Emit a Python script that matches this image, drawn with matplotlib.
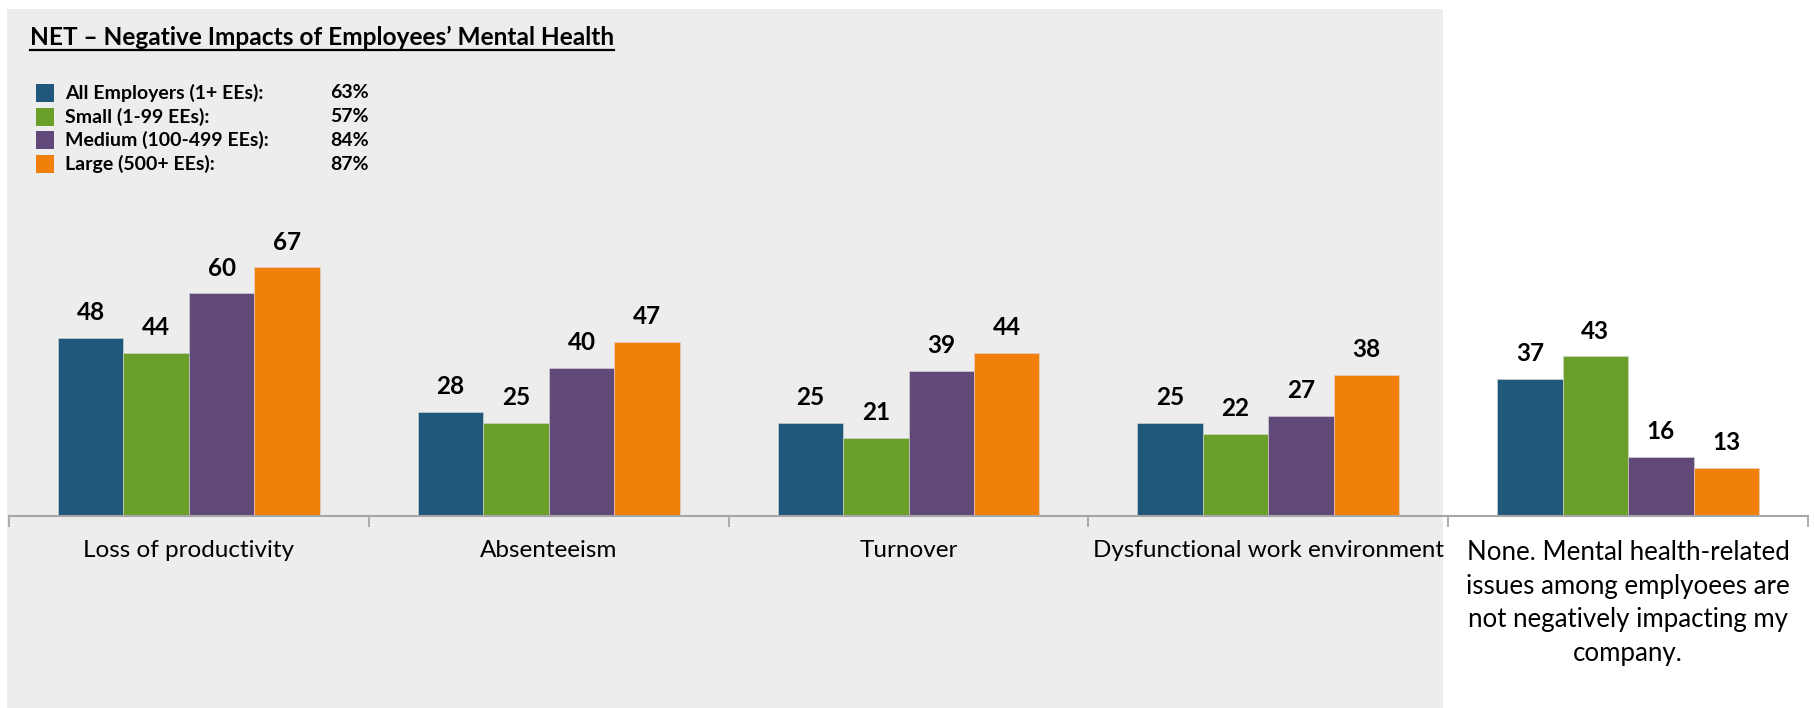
import numpy as np
import matplotlib
matplotlib.use("Agg")
import matplotlib.pyplot as plt
from matplotlib.patches import Rectangle
from matplotlib.lines import Line2D

W, H = 1814, 708
DPI = 100

plt.rcParams['font.family'] = ['Lato', 'DejaVu Sans']

title = "NET \u2013 Negative Impacts of Employees\u2019 Mental Health"
categories = [
    "Loss of productivity",
    "Absenteeism",
    "Turnover",
    "Dysfunctional work environment",
    "None. Mental health-related\nissues among emplyoees are\nnot negatively impacting my\ncompany.",
]
series = ["All Employers (1+ EEs):", "Small (1-99 EEs):",
          "Medium (100-499 EEs):", "Large (500+ EEs):"]
net_pct = ["63%", "57%", "84%", "87%"]
all_emp = [48, 28, 25, 25, 37]
small = [44, 25, 21, 22, 43]
medium = [60, 40, 39, 27, 16]
large = [67, 47, 44, 38, 13]
values = [all_emp, small, medium, large]
colors = ["#1F587A", "#6A9F29", "#604878", "#F0800A"]

fig = plt.figure(figsize=(W / DPI, H / DPI), dpi=DPI)
fig.patch.set_facecolor("white")

# grey panel behind the first four categories
fig.patches.append(Rectangle((7 / W, 0), (1443 - 7) / W, (H - 9) / H,
                             transform=fig.transFigure, facecolor="#EDEDED",
                             edgecolor="none", zorder=-5))

ax = fig.add_axes([9 / W, 192 / H, (1808 - 9) / W, 3.71 * 80 / H])
ax.set_facecolor("none")
ax.set_xlim(-0.5, len(categories) - 0.5)
ax.set_ylim(0, 80)

x = np.arange(len(categories))
bw = 0.182
for i, (vals, c) in enumerate(zip(values, colors)):
    pos = x + (i - 1.5) * bw
    ax.bar(pos, vals, bw, color=c, edgecolor="#D9D9D9", linewidth=0.4, zorder=2)
    for p, v in zip(pos, vals):
        ax.annotate(str(v), (p, v), xytext=(0, 10), textcoords="offset points",
                    ha="center", va="bottom", fontsize=17.5, fontweight="bold",
                    color="black")

for s in ["top", "right", "left"]:
    ax.spines[s].set_visible(False)
ax.spines["bottom"].set_color("#A6A6A6")
ax.spines["bottom"].set_linewidth(1.5)
ax.set_yticks([])
ax.set_xticks(np.arange(-0.5, len(categories), 1.0))
ax.set_xticklabels([])
ax.tick_params(axis="x", length=8, width=1.3, color="#A6A6A6", direction="out")
for k, (xi, lab) in enumerate(zip(x, categories)):
    last = k == len(categories) - 1
    ax.text(xi, -6.6, lab, ha="center", va="top",
            fontsize=18.6 if last else 17.5,
            linespacing=1.42, transform=ax.transData, clip_on=False)

# title with underline
t = fig.text(30 / W, 1 - 37 / H, title, ha="left", va="center",
             fontsize=17.6, fontweight="bold")

# legend block
rows = [93, 117, 140, 164]
for name, pct, c, yy in zip(series, net_pct, colors, rows):
    fig.patches.append(Rectangle((36 / W, 1 - (yy + 9) / H), 18 / W, 18 / H,
                                 transform=fig.transFigure, facecolor=c,
                                 edgecolor="none", zorder=3))
    fig.text(65 / W, 1 - yy / H, name, ha="left", va="center",
             fontsize=14, fontweight="bold")
    fig.text(330 / W, 1 - yy / H, pct, ha="left", va="center",
             fontsize=14, fontweight="bold")

fig.canvas.draw()
bb = t.get_window_extent()
fig.lines.append(Line2D([bb.x0 / W, bb.x1 / W], [(bb.y0 - 1) / H, (bb.y0 - 1) / H],
                        transform=fig.transFigure, color="black", linewidth=1.6))

fig.savefig("out.png", dpi=DPI)
